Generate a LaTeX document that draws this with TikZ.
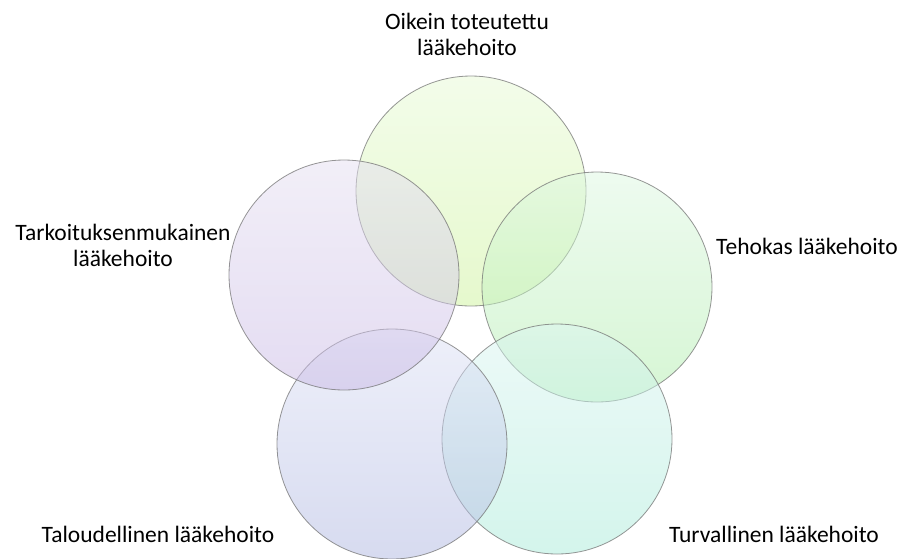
\documentclass[tikz,border=0pt]{standalone}
\usepackage{fontspec}
\setmainfont{Carlito}

\definecolor{OikTop}{RGB}{231,250,213}
\definecolor{OikBot}{RGB}{205,243,155}
\definecolor{TehTop}{RGB}{221,247,225}
\definecolor{TehBot}{RGB}{173,237,169}
\definecolor{TurTop}{RGB}{219,245,241}
\definecolor{TurBot}{RGB}{169,235,217}
\definecolor{TalTop}{RGB}{221,225,245}
\definecolor{TalBot}{RGB}{175,183,225}
\definecolor{TarTop}{RGB}{229,223,241}
\definecolor{TarBot}{RGB}{201,185,229}

\tikzset{
  venn/.style={circle, minimum size=230pt, inner sep=0pt, draw=black!55,
    line width=0.8pt, fill opacity=0.5, draw opacity=0.75},
  lbl/.style={font=\fontsize{23.5}{26}\selectfont, inner sep=0pt, align=center}
}

\begin{document}
\begin{tikzpicture}[x=1pt, y=-1pt]
    \useasboundingbox (0,0) rectangle (907,558);

    % Circle centres (top, right, bottom-right, bottom-left, left)
    \coordinate (cOik) at (471,191);
    \coordinate (cTeh) at (597,287);
    \coordinate (cTur) at (557,439);
    \coordinate (cTal) at (392,444);
    \coordinate (cTar) at (344,275);

    % Circles
    \foreach \c in {Oik,Teh,Tur,Tal,Tar}
        \node[venn, top color=\c Top, bottom color=\c Bot] (circ\c) at (c\c) {};

    % Labels (base = baseline of the last line)
    \node[lbl, anchor=base] (lblOik) at (467,55) {Oikein toteutettu\\lääkehoito};
    \node[lbl, anchor=base west] (lblTeh) at (716,254) {Tehokas lääkehoito};
    \node[lbl, anchor=base] (lblTur) at (774,542) {Turvallinen lääkehoito};
    \node[lbl, anchor=base] (lblTal) at (158,542) {Taloudellinen lääkehoito};
    \node[lbl, anchor=base] (lblTar) at (123,266) {Tarkoituksenmukainen\\lääkehoito};
\end{tikzpicture}
\end{document}
